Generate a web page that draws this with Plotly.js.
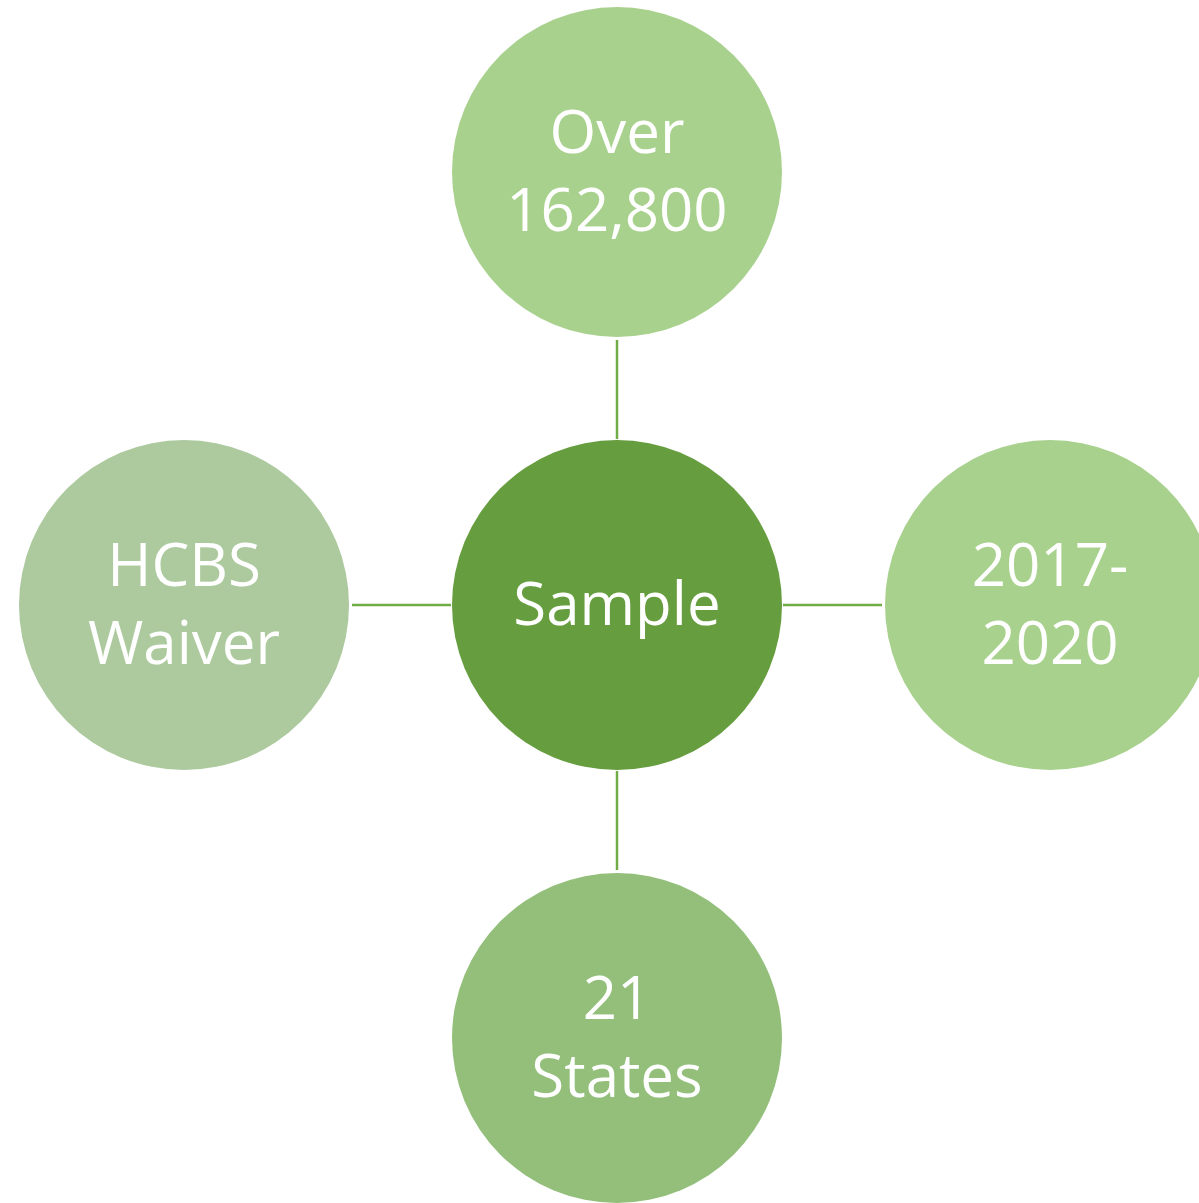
<!DOCTYPE html>
<html>
<head>
<meta charset="utf-8">
<script src="https://cdn.plot.ly/plotly-3.0.1.min.js"></script>
<style>html,body{margin:0;padding:0;background:#fff;}#chart{width:1199px;height:1203px;}</style>
</head>
<body>
<div id="chart"></div>
<script>
// Hub-and-spoke diagram data
const hubLabel = "Sample";
const hubColor = "#669D3F";
const spokeLabels = ["Over<br>162,800", "2017-<br>2020", "21<br>States", "HCBS<br>Waiver"];
const spokeColors = ["#A9D18E", "#A9D18E", "#93BF7B", "#ADCA9F"];
const spokeDirX = [0, 1, 0, -1];
const spokeDirY = [-1, 0, 1, 0];

// Layout geometry
const hubX = 617, hubY = 605;
const spacing = 433;
const radius = 165;
const gap = 3;
const textOffset = 5;
const lineColor = "#70AD47";

const xs = [hubX], ys = [hubY + textOffset], texts = [hubLabel];
const shapes = [];

spokeLabels.forEach((lab, i) => {
  const cx = hubX + spokeDirX[i] * spacing;
  const cy = hubY + spokeDirY[i] * spacing;
  xs.push(cx); ys.push(cy + textOffset); texts.push(lab);
  shapes.push({
    type: "line", xref: "x", yref: "y",
    x0: hubX + spokeDirX[i] * (radius + 1), y0: hubY + spokeDirY[i] * (radius + 1),
    x1: cx - spokeDirX[i] * (radius + gap), y1: cy - spokeDirY[i] * (radius + gap),
    line: {color: lineColor, width: 2.5}, layer: "below"
  });
  shapes.push({
    type: "circle", xref: "x", yref: "y",
    x0: cx - radius, x1: cx + radius, y0: cy - radius, y1: cy + radius,
    fillcolor: spokeColors[i], line: {width: 0}, layer: "below"
  });
});
shapes.push({
  type: "circle", xref: "x", yref: "y",
  x0: hubX - radius, x1: hubX + radius, y0: hubY - radius, y1: hubY + radius,
  fillcolor: hubColor, line: {width: 0}, layer: "below"
});

const trace = {
  type: "scatter", mode: "text",
  x: xs, y: ys, text: texts,
  textposition: "middle center",
  textfont: {family: "Open Sans, sans-serif", size: 60, color: "#FFFFFF"},
  hoverinfo: "skip", cliponaxis: false
};

const layout = {
  width: 1199, height: 1203,
  margin: {l: 0, r: 0, t: 0, b: 0},
  paper_bgcolor: "#FFFFFF", plot_bgcolor: "#FFFFFF",
  xaxis: {range: [0, 1199], visible: false, fixedrange: true},
  yaxis: {range: [1203, 0], visible: false, fixedrange: true},
  shapes: shapes,
  showlegend: false
};

Plotly.newPlot("chart", [trace], layout, {displayModeBar: false, staticPlot: true});
</script>
</body>
</html>
